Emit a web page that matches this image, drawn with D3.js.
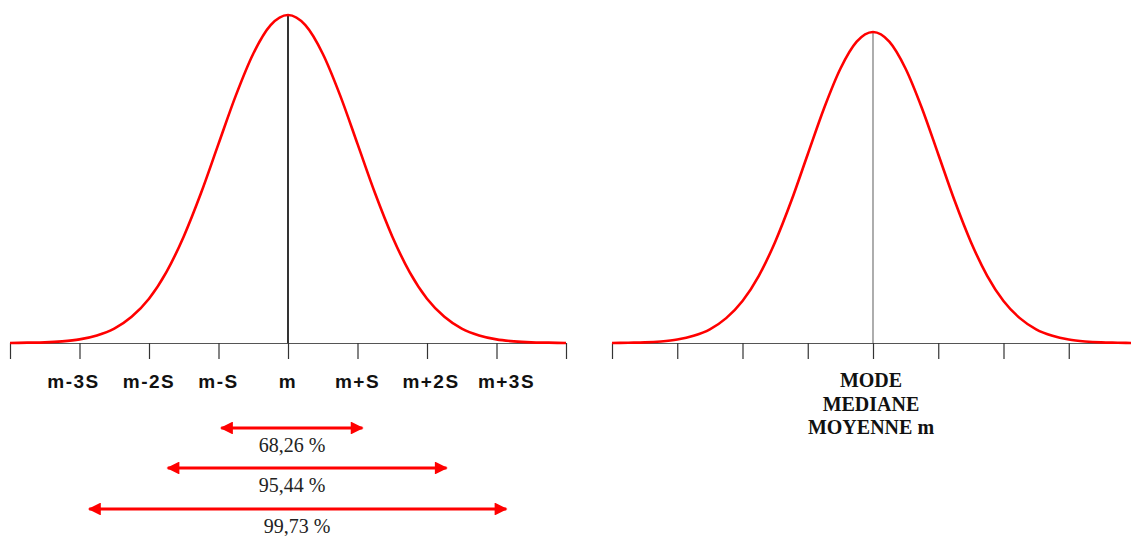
<!DOCTYPE html>
<html>
<head>
<meta charset="utf-8">
<script src="https://cdn.jsdelivr.net/npm/d3@7"></script>
<style>
  html, body { margin: 0; padding: 0; background: #fff; }
  svg { display: block; }
</style>
</head>
<body>
<svg id="chart" width="1131" height="536"></svg>
<script>
// ---- data ----
// positions along the axis, in units of S (standard deviation)
const curveX = [-4,-3.75,-3.5,-3.25,-3,-2.75,-2.5,-2.25,-2,-1.75,-1.5,-1.25,-1,-0.75,-0.5,-0.25,0,
                 0.25,0.5,0.75,1,1.25,1.5,1.75,2,2.25,2.5,2.75,3,3.25,3.5,3.75,4];
// relative curve height (peak = 1)
const curveY = [0,0.001,0.002,0.005,0.011,0.023,0.044,0.08,0.135,0.216,0.325,0.458,0.607,0.755,0.882,0.969,1,
                 0.969,0.882,0.755,0.607,0.458,0.325,0.216,0.135,0.08,0.044,0.023,0.011,0.005,0.002,0.001,0];
const leftTicks = [-4,-3,-2,-1,0,1,2,3,4];
const leftTickLabels = ["", "m-3S", "m-2S", "m-S", "m", "m+S", "m+2S", "m+3S", ""];
const rightTicks = [-4,-3,-2,-1,0,1,2,3,4];
const rightLabels = ["MODE", "MEDIANE", "MOYENNE m"];
const arrowStart = [-0.96, -1.73, -2.86];
const arrowEnd = [1.07, 2.28, 3.14];
const arrowLabels = ["68,26 %", "95,44 %", "99,73 %"];

// ---- drawing ----
const svg = d3.select("#chart");
const red = "#ff0000";

const xL = d3.scaleLinear().domain([-4, 4]).range([10, 566]);
const yL = d3.scaleLinear().domain([0, 1]).range([343, 15]);
const xR = d3.scaleLinear().domain([-4, 4]).range([612, 1134]);
const yR = d3.scaleLinear().domain([0, 1]).range([343, 32]);

const pts = curveX.map((x, i) => [x, curveY[i]]);

function panel(x, y, ticks, centerColor, centerWidth) {
  const g = svg.append("g");
  const axis = d3.axisBottom(x).tickValues(ticks).tickSize(16).tickSizeOuter(0).tickFormat("");
  const ag = g.append("g").attr("transform", `translate(0,${y(0)})`).call(axis);
  ag.select(".domain").attr("stroke", "#555").attr("stroke-width", 1.2);
  ag.selectAll(".tick line").attr("stroke", "#333").attr("stroke-width", 1.2);
  // center line
  g.append("line")
    .attr("x1", x(0)).attr("x2", x(0))
    .attr("y1", y(1)).attr("y2", y(0))
    .attr("stroke", centerColor).attr("stroke-width", centerWidth);
  // curve
  g.append("path")
    .datum(pts)
    .attr("fill", "none")
    .attr("stroke", red)
    .attr("stroke-width", 2.6)
    .attr("stroke-linejoin", "round")
    .attr("d", d3.line().x(d => x(d[0])).y(d => y(d[1])).curve(d3.curveMonotoneX));
  return g;
}

panel(xL, yL, leftTicks, "#000", 1.6);
panel(xR, yR, rightTicks, "#777", 1.2);

// left tick labels
svg.append("g").selectAll("text")
  .data(leftTicks.map((t, i) => ({ t, label: leftTickLabels[i] })).filter(d => d.label))
  .join("text")
  .attr("x", d => xL(d.t) + (d.t === -3 ? -6 : d.t === 3 ? 10 : d.t === 2 ? 4 : 0))
  .attr("y", 388)
  .attr("text-anchor", "middle")
  .attr("font-family", "'Liberation Sans', Arial, sans-serif")
  .attr("font-weight", "bold")
  .attr("font-size", 19)
  .attr("letter-spacing", 1.5)
  .attr("fill", "#111")
  .text(d => d.label);

// right labels
svg.append("g").selectAll("text")
  .data(rightLabels)
  .join("text")
  .attr("x", xR(0) - 2)
  .attr("y", (d, i) => 387 + i * 23.5)
  .attr("text-anchor", "middle")
  .attr("font-family", "'Liberation Serif', 'Times New Roman', serif")
  .attr("font-weight", "bold")
  .attr("font-size", 20)
  .attr("fill", "#111")
  .text(d => d);

// arrows
const defs = svg.append("defs");
defs.append("marker")
  .attr("id", "ah")
  .attr("viewBox", "0 0 10 10")
  .attr("refX", 9).attr("refY", 5)
  .attr("markerWidth", 5).attr("markerHeight", 4.3)
  .attr("markerUnits", "strokeWidth")
  .attr("orient", "auto-start-reverse")
  .append("path").attr("d", "M0,0 L10,5 L0,10 Z").attr("fill", red);

const arrowY = [428, 468, 509];
const ag = svg.append("g");
arrowLabels.forEach((lab, i) => {
  ag.append("line")
    .attr("x1", xL(arrowStart[i])).attr("x2", xL(arrowEnd[i]))
    .attr("y1", arrowY[i]).attr("y2", arrowY[i])
    .attr("stroke", red).attr("stroke-width", 3)
    .attr("marker-start", "url(#ah)").attr("marker-end", "url(#ah)");
  ag.append("text")
    .attr("x", xL(0) + (i === 2 ? 9 : 4))
    .attr("y", arrowY[i] + 24)
    .attr("text-anchor", "middle")
    .attr("font-family", "'Liberation Serif', 'Times New Roman', serif")
    .attr("font-size", 20)
    .attr("fill", "#222")
    .text(lab);
});
</script>
</body>
</html>
